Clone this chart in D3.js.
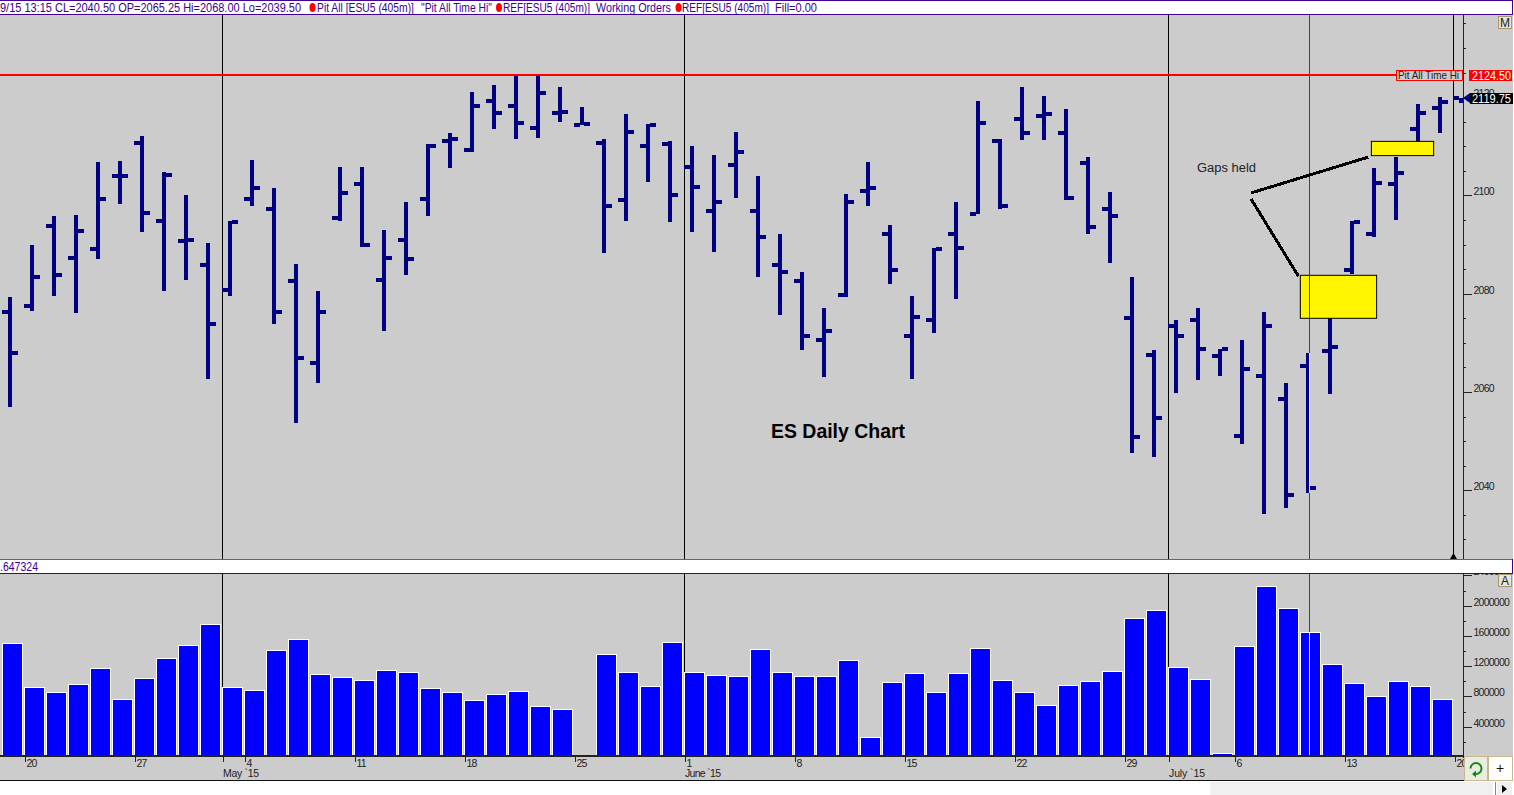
<!DOCTYPE html>
<html>
<head>
<meta charset="utf-8">
<style>
html,body{margin:0;padding:0;background:#fff;overflow:hidden}
svg{display:block}
text{font-family:"Liberation Sans",Arial,sans-serif}
.ax text{font-size:10.5px;letter-spacing:-.75px;fill:#222;font-family:"Liberation Sans",Arial,sans-serif}
</style>
<script src="https://cdnjs.cloudflare.com/ajax/libs/d3/7.8.5/d3.min.js"></script>
</head>
<body>
<svg id="c" width="1514" height="795"></svg>
<script>
// ---------- data ----------
const opens = [2076.25,2077.5,2093.75,2087.25,2089,2104,2110.75,2094.75,2090.75,2085.75,2080.75,2099.25,2097.25,2082.5,2066,2095.5,2102.25,2082.75,2091,2099.25,2111,2109.25,2119.25,2118.25,2113.75,2116.75,2114.25,2110.75,2099,2110,2110.5,2105.75,2096.75,2106.25,2096.75,2085.75,2082.5,2070.5,2079.75,2101,2092.25,2071.5,2074.75,2092.25,2096.25,2111,2115.5,2116.25,2112.75,2106.5,2097.25,2075,2067.5,2073.5,2074.75,2067.25,2051,2063.25,2058.5,2065.25,2068.25,2084.75,2092.25,2102.25,2113.5,2117.75,2119.75];
const highs = [2079.25,2090,2095.75,2096,2106.75,2107,2112,2104.75,2100,2090.25,2094.75,2107.25,2101.5,2086,2080.5,2105.75,2105.75,2093,2098.75,2110.5,2112.75,2121,2122.5,2124.25,2124.25,2122,2118,2111.5,2116.5,2114.5,2111,2110,2108.25,2113,2104,2092.25,2084.5,2077,2100.25,2106.75,2094,2079.5,2089.25,2098.75,2119.25,2111.5,2122,2120.25,2117.5,2107.75,2100.75,2083.5,2068.5,2074.75,2077,2068.75,2070.5,2076.25,2061.75,2068,2076,2094.75,2105.5,2107.75,2118.5,2120,2119.75];
const lows = [2057,2076.5,2079.5,2076,2087,2098.25,2092.5,2080.5,2082.75,2062.75,2079.5,2097.75,2073.75,2053.75,2061.75,2094.75,2089.5,2072.5,2083.75,2095.75,2105.5,2108.75,2113.5,2111.5,2111.75,2115,2114.25,2088.25,2094.75,2102.75,2094.5,2092.5,2088.5,2099.5,2083.5,2075.75,2068.5,2063,2079.25,2097.75,2082,2062.75,2072,2079,2096.25,2097.25,2111.25,2111.25,2099,2092.25,2086.25,2047.5,2046.75,2059.75,2062.5,2063.25,2049.5,2035.25,2036.5,2039.5,2059.5,2084,2091.5,2095,2109.25,2112.75,2118.75];
const closes = [2068,2083.5,2083.75,2092.75,2099.25,2104,2096.5,2104.25,2091,2073.75,2094.5,2101.5,2076.25,2067,2076.25,2100.5,2090,2087.25,2087,2110,2111.5,2118.25,2116.75,2114.75,2120.75,2117,2114.5,2097.75,2113,2114.25,2100,2101.75,2098.75,2108.75,2091.5,2084.5,2071.5,2072.5,2098.75,2101.5,2084.75,2075.25,2089,2089.25,2114.75,2097.75,2112.75,2116.5,2099.5,2093.5,2095.75,2050.75,2054.75,2071.5,2068.75,2068.75,2064.75,2073.5,2039,2040.5,2069.25,2094.5,2102.5,2104.5,2116.75,2119,2119.75];
const volumes = [1503000,921000,855000,961000,1173000,763000,1040000,1305000,1477000,1754000,921000,882000,1410000,1556000,1093000,1054000,1014000,1146000,1120000,908000,855000,750000,829000,868000,670000,631000,0,1358000,1120000,935000,1516000,1120000,1080000,1067000,1424000,1120000,1067000,1067000,1278000,260000,987000,1106000,855000,1106000,1437000,1014000,855000,683000,948000,1001000,1133000,1833000,1939000,1186000,1027000,49000,1463000,2257000,1966000,1647324,1225000,974000,802000,1001000,935000,763000];
const dayTickIdx = [1,6,11,16,21,26,31,36,41,46,51,56,61,66];
const dayTickLabels = ["20","27","4","11","18","25","1","8","15","22","29","6","13","20"];
const monthIdx = [10,31,53];
const monthLabels = ["May `15","June `15","July `15"];
const priceMajor = [2040,2060,2080,2100,2120];
const priceMinor = [2030,2035,2045,2050,2055,2065,2070,2075,2085,2090,2095,2105,2110,2115,2125,2130,2135];
const volMajor = [400000,800000,1200000,1600000,2000000,2400000];
const volMinor = [200000,600000,1000000,1400000,1800000,2200000];
const pitHi = 2124.5, lastPrice = 2119.75, cursorIdx = 59;
const gaps = [{i0:58.65,i1:62.12,p0:2075,p1:2083.75},{i0:61.88,i1:64.71,p0:2108.1,p1:2111}];
const gapLinks = [{i0:56.41,p0:2100.5,i1:61.74,p1:2107.8},{i0:56.41,p0:2099.3,i1:58.56,p1:2083.6}];
const headerText = [
 ["9/15 13:15 CL=2040.50 OP=2065.25 Hi=2068.00 Lo=2039.50",0,301],
 ["Pit All [ESU5 (405m)]",317,97],
 ['"Pit All Time Hi"',421,71],
 ["REF[ESU5 (405m)]",503,87],
 ["Working Orders",596,75],
 ["REF[ESU5 (405m)]",682,87],
 ["Fill=0.00",775,42]];
const headerDots = [312.5,499,678.5];

// ---------- scales ----------
const svg = d3.select("#c");
const x = d3.scaleLinear().domain([0,66]).range([10,1462]);
const xTick = d3.scaleLinear().domain([0,66]).range([2.5,1454.5]);
const y = d3.scaleLinear().domain([2026.03,2136.91]).range([559,14]);
const yv = d3.scaleLinear().domain([0,2432296]).range([757,573]);
const ry = p => Math.round(y(p));
const NAVY="#000080", PUR="#400090", GR="#cccccc";

// backgrounds
svg.append("rect").attr("x",0).attr("y",14).attr("width",1513).attr("height",767).attr("fill",GR);

// month lines
const lines = svg.append("g").attr("shape-rendering","crispEdges");
monthIdx.forEach(i=>{
  lines.append("line").attr("x1",xTick(i)).attr("x2",xTick(i)).attr("y1",15).attr("y2",559).attr("stroke","#000");
  lines.append("line").attr("x1",xTick(i)).attr("x2",xTick(i)).attr("y1",573).attr("y2",755).attr("stroke","#000");
});
lines.append("line").attr("x1",1453.5).attr("x2",1453.5).attr("y1",15).attr("y2",559).attr("stroke","#000");
svg.append("path").attr("d","M1450,559L1453.5,553L1457,559Z").attr("fill","#000");

// dark cursor line
const cx = 1309.5;
lines.append("line").attr("x1",cx).attr("x2",cx).attr("y1",15).attr("y2",559).attr("stroke","#444");
lines.append("line").attr("x1",cx).attr("x2",cx).attr("y1",573).attr("y2",755).attr("stroke","#444");

// pit high line
svg.append("rect").attr("x",0).attr("y",ry(pitHi)-1).attr("width",1396).attr("height",2).attr("fill","#ff0000").attr("shape-rendering","crispEdges");

// OHLC
const bars = svg.append("g").attr("fill",NAVY).attr("shape-rendering","crispEdges");
opens.forEach((o,i)=>{
  const g = bars.append("g");
  const px = x(i)-(i===66?1:0);
  g.append("rect").attr("x",px-2).attr("y",ry(highs[i])).attr("width",4).attr("height",Math.max(1,ry(lows[i])-ry(highs[i])));
  g.append("rect").attr("x",px-8).attr("y",ry(o)-2).attr("width",6).attr("height",4);
  if(i<66) g.append("rect").attr("x",px+2).attr("y",ry(closes[i])-2).attr("width",6).attr("height",4);
});

// volume
svg.append("g").selectAll("rect").data(volumes.map((v,i)=>({v,i})).filter(d=>d.v>0)).join("rect")
  .attr("x",d=>x(d.i)-7.5).attr("width",20)
  .attr("y",d=>Math.round(yv(d.v))+.5).attr("height",d=>760-Math.round(yv(d.v)))
  .attr("fill","#0000ff").attr("stroke","#fff").attr("shape-rendering","crispEdges");

// gap annotations
svg.append("g").selectAll("rect").data(gaps).join("rect")
  .attr("x",d=>x(d.i0)).attr("width",d=>x(d.i1)-x(d.i0))
  .attr("y",d=>y(d.p1)).attr("height",d=>y(d.p0)-y(d.p1))
  .attr("fill","#fff500").attr("stroke","#000").attr("stroke-width",1);
svg.append("g").selectAll("line").data(gapLinks).join("line")
  .attr("x1",d=>x(d.i0)).attr("y1",d=>y(d.p0)).attr("x2",d=>x(d.i1)).attr("y2",d=>y(d.p1))
  .attr("stroke","#000").attr("stroke-width",3).attr("shape-rendering","crispEdges");
svg.append("text").attr("x",1197).attr("y",172).attr("font-size",12.5).attr("fill","#222").attr("textLength",59).attr("lengthAdjust","spacingAndGlyphs").text("Gaps held");
svg.append("text").attr("x",771).attr("y",438).attr("font-size",20).attr("font-weight","bold").attr("fill","#000").attr("textLength",134).attr("lengthAdjust","spacingAndGlyphs").text("ES Daily Chart");

// cursor above gaps and bars
const cur = svg.append("g").attr("shape-rendering","crispEdges");
cur.append("line").attr("x1",cx).attr("x2",cx).attr("y1",y(gaps[0].p1)).attr("y2",y(gaps[0].p0)).attr("stroke","#444");
cur.append("line").attr("x1",cx).attr("x2",cx).attr("y1",ry(highs[cursorIdx])).attr("y2",ry(lows[cursorIdx])).attr("stroke","#eeeeb0");
cur.append("line").attr("x1",cx).attr("x2",cx).attr("y1",Math.round(yv(volumes[cursorIdx]))+1).attr("y2",755).attr("stroke","#eeeeb0");

// bottom strip
svg.append("rect").attr("x",0).attr("y",757).attr("width",1464).attr("height",23).attr("fill",GR);

// price axis
function styleAxis(g,off){
  g.attr("class","ax");
  g.selectAll("path,line").attr("stroke","#222").attr("shape-rendering","crispEdges");
  g.selectAll("text").attr("y",off).attr("dy","0.32em");
}
svg.append("g").attr("transform","translate(1462.5,0)")
  .call(d3.axisRight(y).tickValues(priceMinor).tickSize(3).tickSizeOuter(0).tickFormat(""))
  .call(styleAxis,0);
svg.append("g").attr("transform","translate(1462.5,0)")
  .call(d3.axisRight(y).tickValues(priceMajor).tickSize(9).tickSizeOuter(0).tickPadding(2).tickFormat(d3.format("d")))
  .call(g=>g.select(".domain").remove())
  .call(styleAxis,-4);

// volume axis
svg.append("g").attr("transform","translate(1462.5,0)")
  .call(d3.axisRight(yv).tickValues(volMinor).tickSize(3).tickSizeOuter(0).tickFormat(""))
  .call(styleAxis,0);
svg.append("g").attr("transform","translate(1462.5,0)")
  .call(d3.axisRight(yv).tickValues(volMajor).tickSize(9).tickSizeOuter(0).tickPadding(2).tickFormat(d3.format("d")))
  .call(g=>g.select(".domain").remove())
  .call(styleAxis,-4);

// date axis
const dateAxis = svg.append("g").attr("transform","translate(0,757)")
  .call(d3.axisBottom(xTick).tickValues(dayTickIdx).tickSize(5).tickPadding(1).tickFormat((d,i)=>dayTickLabels[i]));
dateAxis.select(".domain").remove();
dateAxis.attr("class","ax");
dateAxis.selectAll("line").attr("stroke","#222").attr("shape-rendering","crispEdges");
dateAxis.selectAll("text").attr("text-anchor","start").attr("x",1.5).attr("y",3).attr("dy","0.71em");
const monthAxis = svg.append("g").attr("transform","translate(0,757)")
  .call(d3.axisBottom(xTick).tickValues(monthIdx).tickSize(5).tickFormat((d,i)=>monthLabels[i]));
monthAxis.select(".domain").remove();
monthAxis.attr("class","ax");
monthAxis.selectAll("line").attr("stroke","#222").attr("shape-rendering","crispEdges");
monthAxis.selectAll("text").attr("text-anchor","start").attr("x",0).attr("y",12.5).attr("dy","0.71em").attr("textLength",36).style("letter-spacing","0");
svg.append("rect").attr("x",0).attr("y",755).attr("width",1463).attr("height",2).attr("fill","#222");
svg.append("rect").attr("x",0).attr("y",780).attr("width",1464).attr("height",1).attr("fill","#111");

// header strip
svg.append("rect").attr("x",0).attr("y",0).attr("width",1513).attr("height",14).attr("fill","#fff");
svg.append("rect").attr("x",-2).attr("y",.5).attr("width",1514.5).attr("height",14).attr("fill","none").attr("stroke",PUR).attr("shape-rendering","crispEdges");
headerText.forEach(h=>{
  svg.append("text").attr("x",h[1]).attr("y",12).attr("font-size",12).attr("fill",PUR).attr("textLength",h[2]).attr("lengthAdjust","spacingAndGlyphs").text(h[0]);
});
headerDots.forEach(d=>svg.append("ellipse").attr("cx",d).attr("cy",7.5).attr("rx",3).attr("ry",4.5).attr("fill","#f00"));

// middle strip
svg.append("rect").attr("x",0).attr("y",559).attr("width",1513).attr("height",14).attr("fill","#fff");
svg.append("rect").attr("x",0).attr("y",559).attr("width",1513).attr("height",1).attr("fill","#666");
svg.append("rect").attr("x",0).attr("y",573).attr("width",1513).attr("height",1).attr("fill",PUR);
svg.append("rect").attr("x",1512).attr("y",559).attr("width",1).attr("height",15).attr("fill",PUR);
svg.append("text").attr("x",0).attr("y",571).attr("font-size",12).attr("fill",PUR).attr("textLength",38).attr("lengthAdjust","spacingAndGlyphs").text(".647324");

// price tags
const tagG = svg.append("g");
tagG.append("rect").attr("x",1396).attr("y",70.5).attr("width",66).attr("height",10).attr("fill",GR).attr("stroke","#f00").attr("shape-rendering","crispEdges");
tagG.append("text").attr("x",1398).attr("y",79).attr("font-size",10.5).attr("fill","#222").attr("textLength",61).attr("lengthAdjust","spacingAndGlyphs").text("Pit All Time Hi");
tagG.append("rect").attr("x",1469).attr("y",70).attr("width",43).attr("height",11).attr("fill","#f00");
tagG.append("text").attr("x",1472).attr("y",80).attr("font-size",12).attr("fill","#fff").attr("textLength",39).attr("lengthAdjust","spacingAndGlyphs").text(d3.format(".2f")(pitHi));
tagG.append("rect").attr("x",1470).attr("y",93).attr("width",43).attr("height",11).attr("fill","#000");
tagG.append("text").attr("x",1472).attr("y",103).attr("font-size",12).attr("fill","#fff").attr("textLength",39).attr("lengthAdjust","spacingAndGlyphs").text(d3.format(".2f")(lastPrice));
tagG.append("path").attr("d",`M1463,${ry(lastPrice)}L1470,${ry(lastPrice)-5}V${ry(lastPrice)+5}Z`).attr("fill",NAVY);

// M / A buttons
[["M",16],["A",574]].forEach(b=>{
  svg.append("rect").attr("x",1498.5).attr("y",b[1]+.5).attr("width",13).attr("height",12).attr("fill","#e4e4e0").attr("stroke","#a89868").attr("shape-rendering","crispEdges");
  svg.append("text").attr("x",1505).attr("y",b[1]+11).attr("text-anchor","middle").attr("font-size",12).attr("fill","#222").text(b[0]);
});

// bottom-right buttons
svg.append("rect").attr("x",1464.5).attr("y",756.5).attr("width",23).attr("height",24).attr("fill","#ecebe2").attr("stroke","#c4b890").attr("shape-rendering","crispEdges");
svg.append("rect").attr("x",1488.5).attr("y",756.5).attr("width",24).attr("height",24).attr("fill","#fff").attr("stroke","#c4b890").attr("shape-rendering","crispEdges");
svg.append("path").attr("d","M1470.5,768.5a5.5,5.5 0 1 1 5.5,5.5").attr("fill","none").attr("stroke","#128a12").attr("stroke-width",2);
svg.append("path").attr("d","M1476,770.5l-4,3.5l4,3.5Z").attr("fill","#128a12");
svg.append("text").attr("x",1500).attr("y",772.5).attr("text-anchor","middle").attr("font-size",14).attr("fill","#111").text("+");

// scrollbar
svg.append("rect").attr("x",1210).attr("y",782).attr("width",283).attr("height",13).attr("fill","#f0f0f0");
svg.append("rect").attr("x",1497).attr("y",782).attr("width",15).attr("height",13).attr("fill","#f0f0f0");
svg.append("rect").attr("x",1495).attr("y",782).attr("width",1).attr("height",13).attr("fill","#888");
svg.append("path").attr("d","M1502,785L1507,789L1502,793Z").attr("fill","#000");
</script>
</body>
</html>
